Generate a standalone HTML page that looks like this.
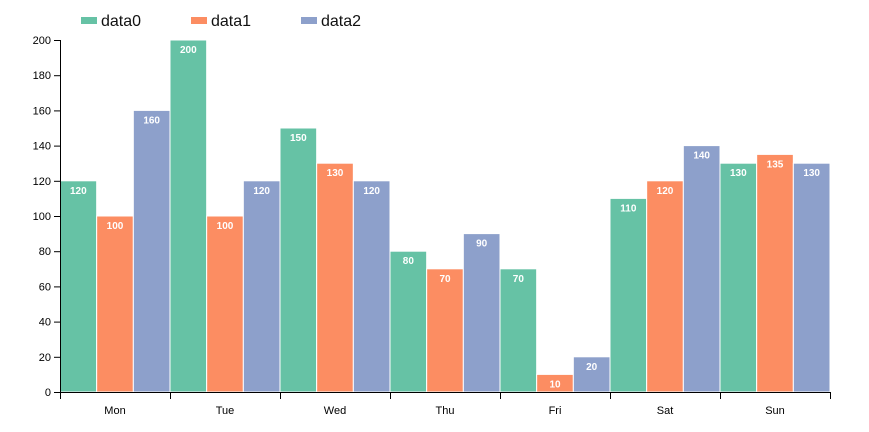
<!DOCTYPE html>
<html><head><meta charset="utf-8"><style>
body{margin:0;background:#fff;font-family:"Liberation Sans",sans-serif;}
</style></head><body>
<svg id="chart" width="869" height="427" xmlns="http://www.w3.org/2000/svg"></svg>
<script>
const categories=["Mon","Tue","Wed","Thu","Fri","Sat","Sun"];
const seriesNames=["data0","data1","data2"];
const data0=[120,200,150,80,70,110,130];
const data1=[100,100,130,70,10,120,135];
const data2=[160,120,120,90,20,140,130];
const yTicks=[0,20,40,60,80,100,120,140,160,180,200];
const colors=["#66c2a5","#fc8d62","#8da0cb"];
const series=[data0,data1,data2];
const NS="http://www.w3.org/2000/svg";
const svg=document.getElementById('chart');
const x0=60,x1=830,yBase=392,yTop=40,yMax=200;
const band=(x1-x0)/categories.length;
const y=v=>yBase-(v/yMax)*(yBase-yTop);
const xb=i=>x0+i*band;
function mk(t,a){const e=document.createElementNS(NS,t);for(const k in a)e.setAttribute(k,a[k]);svg.appendChild(e);return e;}
// legend
seriesNames.forEach((n,i)=>{
  const r=mk('rect',{x:81+i*110,y:17,width:16,height:7,fill:colors[i]});
  
  
  const t=mk('text',{x:101+i*110,y:26,'font-size':16,fill:'#111'});
  t.textContent=n;
  
  
});
// bars
const bw=band/3;
series.forEach((s,si)=>{
  s.forEach((v,i)=>{
    const bx=xb(i)+si*bw;
    const r=mk('rect',{x:bx,y:y(v),width:bw,height:yBase-y(v),fill:colors[si],stroke:'#fff','stroke-width':1});
    
    
    const t=mk('text',{x:bx+bw/2,y:y(v)+13,'font-size':10,'font-weight':'bold',fill:'#fff','text-anchor':'middle'});
    t.textContent=v;
    
    
  });
});
// y axis
const ya=mk('path',{d:`M${x0-6},${y(200)+0.5}H${x0+0.5}V${yBase+0.5}H${x0-6}`,fill:'none',stroke:'#000'});


yTicks.forEach(v=>{
  const l=mk('line',{x1:x0-6,x2:x0,y1:y(v)+0.5,y2:y(v)+0.5,stroke:'#000'});
  
  
  const t=mk('text',{x:x0-9,y:y(v)+4,'font-size':11,fill:'#000','text-anchor':'end'});
  t.textContent=v;
  
  
});
// x axis
const xa=mk('path',{d:`M${x0+0.5},${yBase+7}V${yBase+0.5}H${x1+0.5}V${yBase+7}`,fill:'none',stroke:'#000'});


categories.forEach((c,i)=>{
  const l=mk('line',{x1:xb(i)+0.5,x2:xb(i)+0.5,y1:yBase,y2:yBase+7,stroke:'#000'});
  
  
  const t=mk('text',{x:xb(i)+band/2,y:yBase+22,'font-size':11,fill:'#000','text-anchor':'middle'});
  t.textContent=c;
  
  
});
</script>
</body></html>
